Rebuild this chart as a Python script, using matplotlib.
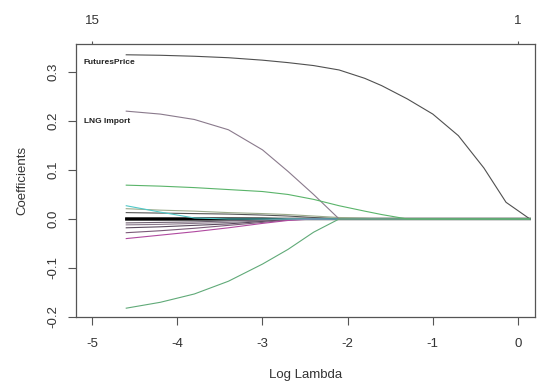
import matplotlib
matplotlib.use("Agg")
import matplotlib.pyplot as plt
import numpy as np

plt.rcParams['font.family'] = ['Liberation Sans', 'DejaVu Sans']
plt.rcParams['axes.unicode_minus'] = False

# log(lambda) grid of the path
log_lambda = [-4.6, -4.2, -3.8, -3.4, -3.0, -2.7, -2.4, -2.1, -1.8, -1.6,
              -1.3, -1.0, -0.7, -0.4, -0.14, 0.0, 0.14]

# coefficient paths
futures_price = [0.335, 0.334, 0.332, 0.329, 0.324, 0.319, 0.313, 0.304, 0.287, 0.272,
                 0.245, 0.214, 0.170, 0.104, 0.034, 0.017, 0.0]
lng_import = [0.220, 0.214, 0.203, 0.182, 0.141, 0.097, 0.050, 0.0, 0.0, 0.0,
              0.0, 0.0, 0.0, 0.0, 0.0, 0.0, 0.0]
green_upper = [0.069, 0.067, 0.064, 0.060, 0.056, 0.050, 0.040, 0.027, 0.016, 0.009,
               0.0, 0.0, 0.0, 0.0, 0.0, 0.0, 0.0]
green_lower = [-0.182, -0.170, -0.153, -0.127, -0.092, -0.062, -0.027, 0.0, 0.0, 0.0,
               0.0, 0.0, 0.0, 0.0, 0.0, 0.0, 0.0]
small_pos_1 = [0.027, 0.014, 0.002, 0.0, 0.0, 0.0, 0.0, 0.0, 0.0, 0.0,
               0.0, 0.0, 0.0, 0.0, 0.0, 0.0, 0.0]
small_pos_2 = [0.021, 0.018, 0.016, 0.013, 0.011, 0.009, 0.006, 0.003, 0.0015, 0.0,
               0.0, 0.0, 0.0, 0.0, 0.0, 0.0, 0.0]
small_pos_3 = [0.013, 0.012, 0.011, 0.010, 0.008, 0.006, 0.003, 0.0, 0.0, 0.0,
               0.0, 0.0, 0.0, 0.0, 0.0, 0.0, 0.0]
near_zero_a = [0.0012, 0.0012, 0.0011, 0.0010, 0.0008, 0.0, 0.0, 0.0, 0.0, 0.0,
               0.0, 0.0, 0.0, 0.0, 0.0, 0.0, 0.0]
near_zero_b = [-0.0012, -0.0012, -0.0011, -0.0010, -0.0008, 0.0, 0.0, 0.0, 0.0, 0.0,
               0.0, 0.0, 0.0, 0.0, 0.0, 0.0, 0.0]
small_neg_1 = [-0.008, -0.007, -0.006, -0.004, -0.002, 0.0, 0.0, 0.0, 0.0, 0.0,
               0.0, 0.0, 0.0, 0.0, 0.0, 0.0, 0.0]
small_neg_2 = [-0.012, -0.011, -0.009, -0.007, -0.004, 0.0, 0.0, 0.0, 0.0, 0.0,
               0.0, 0.0, 0.0, 0.0, 0.0, 0.0, 0.0]
small_neg_3 = [-0.018, -0.016, -0.013, -0.010, -0.005, -0.001, 0.0, 0.0, 0.0, 0.0,
               0.0, 0.0, 0.0, 0.0, 0.0, 0.0, 0.0]
small_neg_4 = [-0.028, -0.024, -0.019, -0.013, -0.007, -0.002, 0.0, 0.0, 0.0, 0.0,
               0.0, 0.0, 0.0, 0.0, 0.0, 0.0, 0.0]
small_neg_5 = [-0.040, -0.033, -0.026, -0.018, -0.009, -0.003, 0.0, 0.0, 0.0, 0.0,
               0.0, 0.0, 0.0, 0.0, 0.0, 0.0, 0.0]

x_ticks = [-5, -4, -3, -2, -1, 0]
y_ticks = [-0.2, -0.1, 0.0, 0.1, 0.2, 0.3]
y_tick_labels = ["-0.2", "-0.1", "0.0", "0.1", "0.2", "0.3"]
top_ticks = [-5, 0]
top_labels = ["15", "1"]
label_futures = "FuturesPrice"
label_lng = "LNG Import"

fig = plt.figure(figsize=(5.4, 3.82), dpi=100)
ax = fig.add_axes([76/540, 1-317/382, (535-76)/540, (317-44)/382])

series = [
    (near_zero_a, "#000000", 1.6),
    (near_zero_b, "#000000", 1.6),
    (small_neg_1, "#6e6070", 0.8),
    (small_neg_2, "#8a7a8c", 0.8),
    (small_neg_3, "#5a4a5e", 0.8),
    (small_neg_4, "#7a5a78", 0.8),
    (small_neg_5, "#b04aa0", 0.8),
    (small_pos_3, "#555555", 0.8),
    (small_pos_2, "#9aaa8a", 0.8),
    (small_pos_1, "#50c8c8", 0.8),
    (lng_import, "#8a7a8c", 0.8),
    (futures_price, "#505050", 0.8),
    (green_lower, "#60aa78", 0.8),
    (green_upper, "#5ab46a", 0.8),
]
for vals, col, lw in series:
    ax.plot(log_lambda, vals, color=col, lw=lw, solid_joinstyle='round')

ax.set_xlim(-5.19, 0.2)
ax.set_ylim(-0.2, 0.357)

edge = "#555555"
for s in ax.spines.values():
    s.set_color(edge)
    s.set_linewidth(0.9)

ax.set_xticks(x_ticks)
ax.set_xticklabels([str(t) for t in x_ticks])
ax.set_yticks(y_ticks)
ax.set_yticklabels(y_tick_labels, rotation=90, va='center')
ax.tick_params(axis='both', direction='out', length=6, width=0.8, color=edge,
               labelsize=9.5, labelcolor="#333333")
ax.tick_params(axis='x', pad=9)
ax.tick_params(axis='y', pad=6)

sec = ax.secondary_xaxis('top')
sec.set_xticks(top_ticks)
sec.set_xticklabels(top_labels)
sec.tick_params(direction='out', length=2, width=0.8, color=edge, labelsize=9.5,
                labelcolor="#333333", pad=10)
sec.spines['top'].set_visible(False)

ax.set_xlabel("Log Lambda", fontsize=9.5, color="#333333", labelpad=14)
ax.set_ylabel("Coefficients", fontsize=9.5, color="#333333", labelpad=14)

ax.text(-5.105, 0.32, label_futures, fontsize=6, fontweight='bold',
        ha='left', va='center', color="#222222")
ax.text(-5.095, 0.198, label_lng, fontsize=6, fontweight='bold',
        ha='left', va='center', color="#222222")

fig.savefig("out.png", dpi=100)
